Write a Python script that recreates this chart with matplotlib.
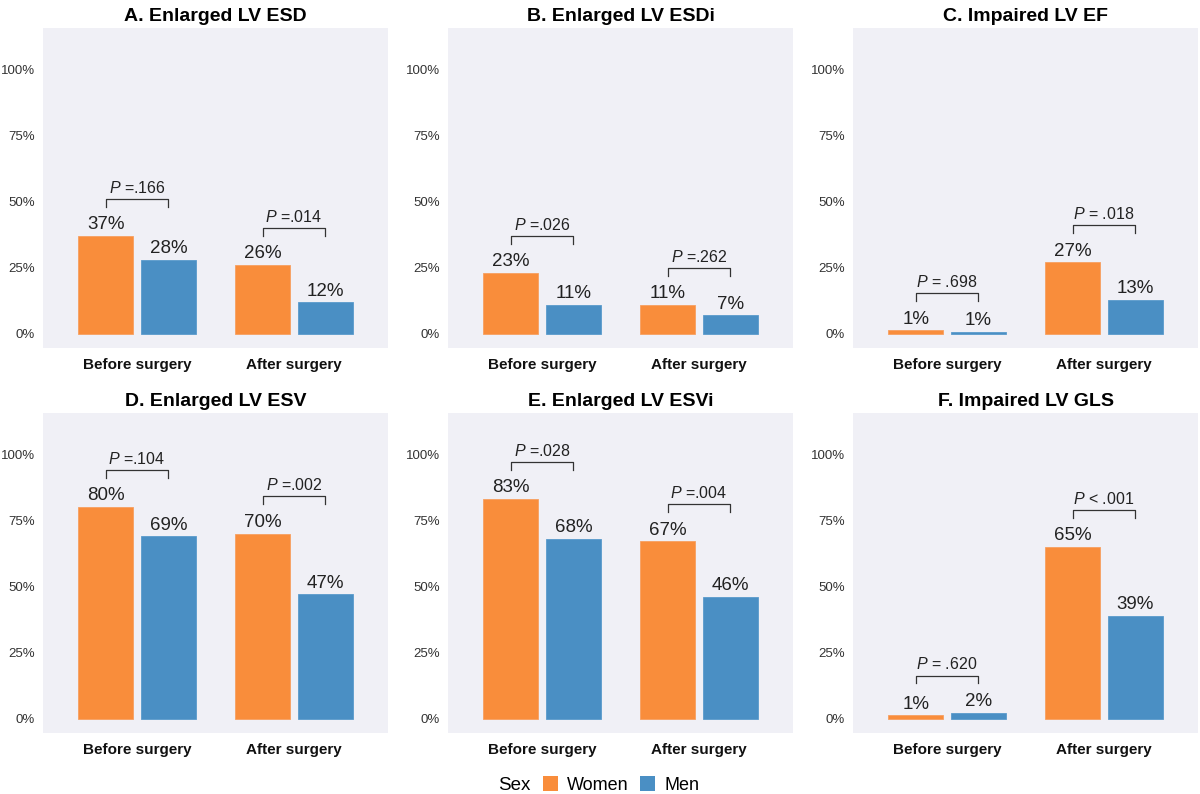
import matplotlib.pyplot as plt
from matplotlib.patches import Patch

plt.rcParams['font.family'] = ['Liberation Sans', 'DejaVu Sans']
plt.rcParams['mathtext.fontset'] = 'custom'
plt.rcParams['mathtext.it'] = 'Liberation Sans:italic'
plt.rcParams['mathtext.rm'] = 'Liberation Sans'

# data
titles = ['A. Enlarged LV ESD', 'B. Enlarged LV ESDi', 'C. Impaired LV EF',
          'D. Enlarged LV ESV', 'E. Enlarged LV ESVi', 'F. Impaired LV GLS']
periods = ['Before surgery', 'After surgery']
women = [[37, 26], [23, 11], [1.4, 27], [80, 70], [83, 67], [1.4, 65]]
men = [[28, 12], [11, 7], [0.8, 13], [69, 47], [68, 46], [2.4, 39]]
pvals = [[' =.166', ' =.014'], [' =.026', ' =.262'], [' = .698', ' = .018'],
         [' =.104', ' =.002'], [' =.028', ' =.004'], [' = .620', ' < .001']]

c_women = '#F98D3B'
c_men = '#4A8FC4'
bg = '#F0F0F6'

fig = plt.figure(figsize=(12, 7.94), dpi=100)

lefts = [43 / 1200, 448 / 1200, 853 / 1200]
bottoms = [1 - 348 / 794, 1 - 733 / 794]
w, h = 345 / 1200, 320 / 794

bw, off = 0.35, 0.2
for i in range(6):
    ax = fig.add_axes([lefts[i % 3], bottoms[i // 3], w, h])
    ax.set_facecolor(bg)
    for s in ax.spines.values():
        s.set_visible(False)
    x = [0, 1]
    ax.bar([p - off for p in x], women[i], width=bw, color=c_women, edgecolor='#F7A060', linewidth=0.6)
    ax.bar([p + off for p in x], men[i], width=bw, color=c_men, edgecolor='#5A9BCC', linewidth=0.6)
    for j in range(2):
        ax.text(j - off, women[i][j] + 1, f'{women[i][j]:.0f}%', ha='center', va='bottom', fontsize=13.5, color='#222222')
        ax.text(j + off, men[i][j] + 1, f'{men[i][j]:.0f}%', ha='center', va='bottom', fontsize=13.5, color='#222222')
        top = max(women[i][j], men[i][j]) + 14
        ax.plot([j - off, j - off, j + off, j + off], [top - 3, top, top, top - 3], color='#333333', lw=0.9)
        ax.text(j, top + 1.2, r'$\mathit{P}$' + pvals[i][j], ha='center', va='bottom', fontsize=11.5, color='#222222')
    ax.set_xlim(-0.6, 1.6)
    ax.set_ylim(-5.3, 115.5)
    ax.set_yticks([0, 25, 50, 75, 100])
    ax.set_yticklabels(['0%', '25%', '50%', '75%', '100%'], fontsize=9.5, color='#333333')
    ax.set_xticks(x)
    ax.set_xticklabels(periods, fontsize=11, fontweight='bold', color='#111111')
    ax.tick_params(length=0, pad=6)
    ax.tick_params(axis='x', pad=7)
    ax.set_title(titles[i], fontsize=14, fontweight='bold', pad=5)

handles = [Patch(facecolor=c_women), Patch(facecolor=c_men)]
fig.legend(handles, ['Women', 'Men'], loc='center', ncol=2, frameon=False,
           fontsize=13, handlelength=0.85, handleheight=0.85, columnspacing=0.6,
           handletextpad=0.5, bbox_to_anchor=(0.5175, 1 - 785 / 794))
fig.text(0.4285, 1 - 785 / 794, 'Sex', fontsize=13.5, ha='center', va='center')

plt.savefig('out.png', dpi=100)
